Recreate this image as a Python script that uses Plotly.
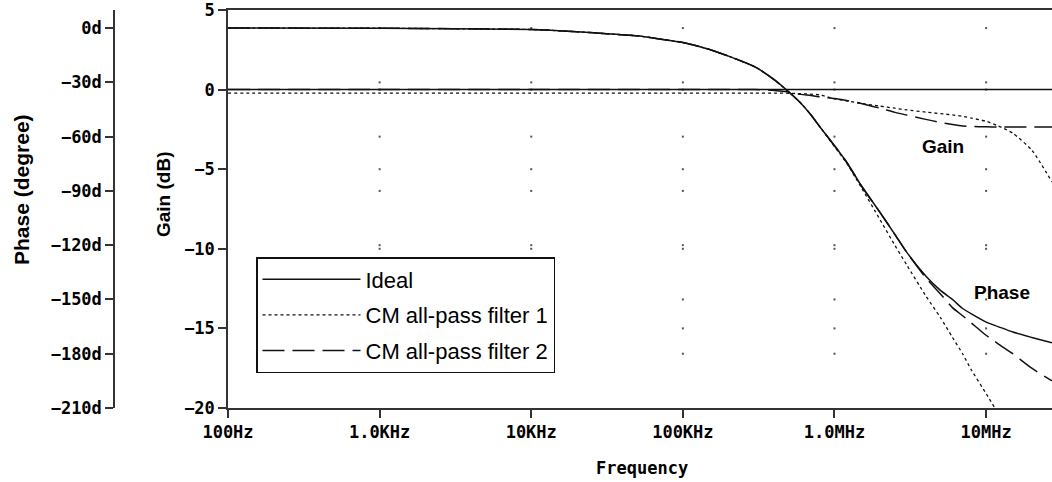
import plotly.graph_objects as go

# ---------------- data ----------------
freq_hz = [100, 1e3, 1e4, 2e4, 3e4, 5e4, 7e4, 1e5, 1.5e5, 2e5, 3e5, 4e5, 5e5, 6e5, 7e5, 8e5,
           1e6, 1.2e6, 1.5e6, 2e6, 2.5e6, 3e6, 4e6, 5e6, 6e6, 7e6, 8e6, 1e7, 1.2e7, 1.5e7, 2e7, 2.72e7]

# Gain (dB)
gain_ideal = [0] * 32
gain_f1 = [-0.22, -0.22, -0.22, -0.22, -0.22, -0.22, -0.22, -0.22, -0.22, -0.22, -0.22, -0.22, -0.23, -0.26,
           -0.29, -0.33, -0.58, -0.71, -0.87, -1.04, -1.17, -1.28, -1.41, -1.51, -1.59, -1.68, -1.79, -1.99,
           -2.28, -2.74, -3.8, -5.8]
gain_f2 = [0, 0, 0, 0, 0, 0, 0, 0, 0, 0, 0, -0.05, -0.15, -0.30, -0.37, -0.45, -0.56, -0.69, -0.87, -1.17,
           -1.43, -1.60, -1.87, -2.06, -2.19, -2.28, -2.31, -2.34, -2.35, -2.35, -2.35, -2.35]

# Phase (degree)
phase_ideal = [0, -0.1, -0.8, -2.0, -3.0, -4.3, -6.0, -8.0, -11.8, -15.5, -21.5, -28.5, -35.3, -41.5, -48,
               -54.5, -65, -74, -87, -102, -114, -124, -137, -145, -150, -155, -158, -162.5, -165, -168,
               -171, -174]
phase_f1 = [0, -0.1, -0.8, -2.0, -3.0, -4.3, -6.0, -8.0, -11.8, -15.5, -21.5, -28.5, -35.3, -41.5, -48,
            -54.5, -65.5, -74.5, -88, -106, -120, -131, -148, -160, -171, -180, -189, -202, -213,
            None, None, None]
phase_f2 = [0, -0.1, -0.8, -2.0, -3.0, -4.3, -6.0, -8.0, -11.8, -15.5, -21.5, -28.5, -35.3, -41.5, -48,
            -54.5, -65, -74, -87, -102, -114, -124, -138, -147, -154.5, -159, -163, -169.8, -174.5, -180,
            -188, -195]

series_names = ["Ideal", "CM all-pass filter 1", "CM all-pass filter 2"]

# Axis ticks
x_tickvals = [1e2, 1e3, 1e4, 1e5, 1e6, 1e7]
x_ticktext = ["100Hz", "1.0KHz", "10KHz", "100KHz", "1.0MHz", "10MHz"]
gain_ticks = [-20, -15, -10, -5, 0, 5]
phase_ticks = [-210, -180, -150, -120, -90, -60, -30, 0]

# ---------------- styling ----------------
INK = "#111111"
MONO = "DejaVu Sans Mono"
SANS = "Liberation Sans, Arial"
styles = [dict(dash="solid", width=1.5), dict(dash="3px,3px", width=1.3), dict(dash="22px,8px", width=1.5)]

fig = go.Figure()

# faint dotted grid at decade / tick intersections
gx, gy = [], []
for xv in x_tickvals[1:]:
    for yv in gain_ticks[1:-1]:
        gx.append(xv); gy.append(yv)
fig.add_trace(go.Scatter(x=gx, y=gy, mode="markers", marker=dict(size=2, color="#555", symbol="square"),
                         showlegend=False, hoverinfo="skip", yaxis="y"))
px_, py_ = [], []
for xv in x_tickvals[1:]:
    for yv in phase_ticks[1:]:
        px_.append(xv); py_.append(yv)
fig.add_trace(go.Scatter(x=px_, y=py_, mode="markers", marker=dict(size=2, color="#555", symbol="square"),
                         showlegend=False, hoverinfo="skip", yaxis="y2"))

gains = [gain_ideal, gain_f1, gain_f2]
phases = [phase_ideal, phase_f1, phase_f2]
for i, name in enumerate(series_names):
    fig.add_trace(go.Scatter(x=freq_hz, y=gains[i], mode="lines", name=name, legendgroup=name,
                             line=dict(color=INK, shape="spline", smoothing=0.6, **styles[i]),
                             yaxis="y", showlegend=True))
    fig.add_trace(go.Scatter(x=freq_hz, y=phases[i], mode="lines", name=name, legendgroup=name,
                             line=dict(color=INK, shape="spline", smoothing=0.6, **styles[i]),
                             yaxis="y2", showlegend=False, connectgaps=False))

W, H = 1052, 482
ML, MR, MT, MB = 60, 0, 10, 74
PW = W - ML - MR
PH = H - MT - MB


def px2x(px):
    return (px - ML) / PW


def px2y(py):
    return (H - MB - py) / PH


tickfont = dict(family=MONO, size=17, color="#000", weight="bold")
axis_line = dict(showline=True, linecolor="#333", linewidth=1.5, ticks="outside", tickcolor="#333",
                 tickwidth=1.5, ticklen=8, showgrid=False, zeroline=False, automargin=False,
                 ticklabeloverflow="allow")


def label(text, x, y, size, family=SANS, angle=0):
    return dict(text=text, x=px2x(x), y=px2y(y), xref="paper", yref="paper", xanchor="center",
                yanchor="middle", textangle=angle, showarrow=False,
                font=dict(family=family, size=size, color="#000"))


fig.update_layout(
    width=W, height=H,
    margin=dict(l=ML, r=MR, t=MT, b=MB, autoexpand=False),
    paper_bgcolor="white", plot_bgcolor="white",
    xaxis=dict(type="log", range=[2, 7.4346], domain=[px2x(228), 1], tickvals=x_tickvals,
               ticktext=x_ticktext, tickfont=tickfont, mirror=True, **axis_line),
    yaxis=dict(range=[-20, 5], tickvals=gain_ticks,
               ticktext=[("\u2212" + str(-v)) if v < 0 else str(v) for v in gain_ticks],
               tickfont=tickfont, **axis_line),
    yaxis2=dict(range=[-210, 10], overlaying="y", anchor="free", position=px2x(114), side="left",
                tickvals=phase_ticks,
                ticktext=[("\u2212" + str(-v) + "d") if v < 0 else str(v) + "d" for v in phase_ticks],
                tickfont=tickfont, **axis_line),
    showlegend=True,
    legend=dict(x=px2x(256), y=px2y(257), xanchor="left", yanchor="top",
                bgcolor="white", bordercolor="#111", borderwidth=1.5,
                font=dict(family=SANS, size=22, color="#000"),
                itemwidth=98, traceorder="grouped", tracegroupgap=4),
    annotations=[
        label("<b>Phase (degree)</b>", 22, 190, 21, angle=-90),
        label("<b>Gain (dB)</b>", 163, 194, 19, angle=-90),
        label("<b>Frequency</b>", 642, 468, 17, family=MONO),
        label("<b>Gain</b>", 943, 146, 19),
        label("<b>Phase</b>", 1002, 292, 19),
    ],
)

fig.write_html("out.html", config={"displayModeBar": False},
               post_script="document.body.style.margin='0';document.body.style.overflow='hidden';")
